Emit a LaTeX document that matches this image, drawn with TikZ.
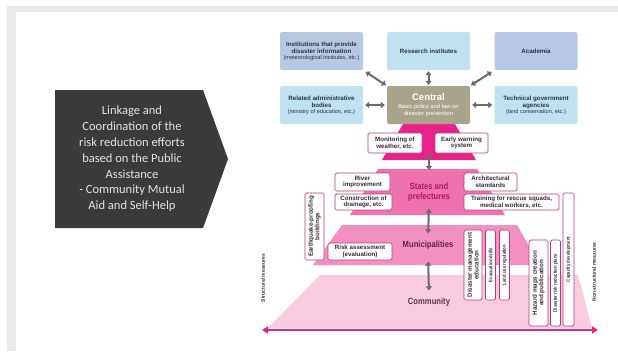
\documentclass[tikz,border=0pt]{standalone}
\usepackage{fontspec}
\setmainfont{Liberation Sans}
\newfontfamily\slidefont{Carlito}
\newfontfamily\narrowfont[FakeStretch=0.85]{Liberation Sans}
\usetikzlibrary{arrows.meta}

\definecolor{framegrey}{HTML}{E9E9E9}
\definecolor{slidedark}{HTML}{3B3B3B}
\definecolor{slidetextc}{HTML}{E2E2E2}
\definecolor{toplav}{HTML}{B8C8E2}
\definecolor{topcyan}{HTML}{C0E2F0}
\definecolor{toptext}{HTML}{2B3346}
\definecolor{centralc}{HTML}{A9A38C}
\definecolor{magentalayer}{HTML}{E8228B}
\definecolor{stateslayer}{HTML}{EE72AE}
\definecolor{munilayer}{HTML}{F190C1}
\definecolor{commlayer}{HTML}{F8CBDF}
\definecolor{boxline}{HTML}{C2337E}
\definecolor{boxtext}{HTML}{3A2C34}
\definecolor{arrowgrey}{HTML}{6A6A6A}
\definecolor{statestext}{HTML}{B3145F}
\definecolor{munitext}{HTML}{5E2448}
\definecolor{commtext}{HTML}{5A3A4E}

\tikzset{
    topbox/.style={rounded corners=2pt, minimum width=83pt, minimum height=38pt,
        align=center, inner sep=1pt, text=toptext, font=\fontsize{6.2}{7}\selectfont\bfseries},
    measurebox/.style={draw=boxline, line width=0.7pt, fill=white, rounded corners=1.5pt,
        align=center, inner sep=0.5pt, text=boxtext, font=\fontsize{6.2}{6.6}\selectfont\bfseries},
    upright/.style={measurebox, rotate=90},
    thinupright/.style={upright, minimum height=10pt, font=\narrowfont\fontsize{5}{5.6}\selectfont\bfseries},
    greyarrow/.style={{Triangle[length=4pt,width=6pt]}-{Triangle[length=4pt,width=6pt]},
        line width=2pt, draw=arrowgrey},
    layerlabel/.style={align=center, font=\narrowfont\bfseries\fontsize{9}{10}\selectfont},
    axislabel/.style={rotate=90, text=boxtext, font=\fontsize{5}{5.5}\selectfont\bfseries},
}

\begin{document}
\begin{tikzpicture}[x=1pt, y=-1pt]
    \useasboundingbox (0,0) rectangle (618,354);
    \fill[white] (0,0) rectangle (618,354);
    % slide frame
    \fill[framegrey] (7,6) rectangle (618,12);
    \fill[framegrey] (7,6) rectangle (16,351);

    % left block
    \fill[slidedark] (55,90) -- (203,90) -- (228,159) -- (203,228) -- (55,228) -- cycle;
    \node[align=center, text=slidetextc, font=\slidefont\fontsize{12.5}{15.8}\selectfont] (linkage) at (132,159)
        {Linkage and\\Coordination of the\\risk reduction efforts\\based on the Public\\Assistance\\- Community Mutual\\Aid and Self-Help};

    % pyramid layers
    \fill[commlayer] (320,275) -- (578,275) -- (592,328) -- (268,328) -- cycle;
    \fill[munilayer] (342,225) -- (517,225) -- (540,265) -- (313,265) -- cycle;
    \fill[stateslayer] (378,169) -- (477,169) -- (505,215) -- (350,215) -- cycle;
    \fill[magentalayer] (403,124) -- (455,124) -- (476,160) -- (382,160) -- cycle;

    % top level
    \node[topbox, fill=toplav] (institutions) at (321.5,51)
        {Institutions that provide\\disaster information\\[-1pt]\mdseries\fontsize{5.6}{6.4}\selectfont (meteorological institutes, etc.)};
    \node[topbox, fill=topcyan] (research) at (428.5,51) {Research institutes};
    \node[topbox, fill=toplav] (academia) at (536,51) {Academia};
    \node[topbox, fill=topcyan] (related) at (321.5,105)
        {Related administrative\\bodies\\[-1pt]\mdseries\fontsize{5.6}{6.4}\selectfont (ministry of education, etc.)};
    \node[topbox, fill=centralc, text=white] (central) at (428.5,105)
        {\fontsize{9.5}{10.5}\selectfont Central\\[1pt]\mdseries\fontsize{5.8}{6.4}\selectfont Basic policy and law on\\\mdseries\fontsize{5.8}{6.4}\selectfont disaster prevention};
    \node[topbox, fill=topcyan] (technical) at (536,105)
        {Technical government\\agencies\\[-1pt]\mdseries\fontsize{5.6}{6.4}\selectfont (land conservation, etc.)};

    \draw[greyarrow, shorten <=3pt, shorten >=1pt] (institutions.south east) -- (central.north west);
    \draw[greyarrow, shorten <=1pt, shorten >=1pt] (research.south) -- (central.north);
    \draw[greyarrow, shorten <=3pt, shorten >=1pt] (academia.south west) -- (central.north east);
    \draw[greyarrow, shorten <=2pt, shorten >=2pt] (related.east) -- (central.west);
    \draw[greyarrow, shorten <=2pt, shorten >=2pt] (technical.west) -- (central.east);

    % national measures
    \node[measurebox, minimum width=54pt, minimum height=20pt] (monitoring) at (395,143) {Monitoring of\\weather, etc.};
    \node[measurebox, minimum width=53pt, minimum height=20pt] (warning) at (461.5,143) {Early warning\\system};

    % states and prefectures
    \node[layerlabel, text=statestext] (states) at (429,192) {States and\\prefectures};
    \coordinate (apex) at (429,154);
    \draw[greyarrow] (apex) -- (429,170);
    \node[measurebox, minimum width=55pt, minimum height=18pt] (river) at (362.5,182) {River\\improvement};
    \node[measurebox, minimum width=57pt, minimum height=16pt] (drainage) at (363.5,202) {Construction of\\drainage, etc.};
    \node[measurebox, minimum width=53pt, minimum height=18pt] (architecture) at (490.5,182) {Architectural\\standards};
    \node[measurebox, minimum width=95pt, minimum height=16pt] (training) at (511.5,202) {Training for rescue squads,\\medical workers, etc.};
    \node[upright, minimum width=67pt, minimum height=19pt] (earthquake) at (314.5,226.5) {Earthquake-proofing\\buildings};

    % municipalities
    \node[layerlabel, text=munitext] (municipalities) at (428,245) {Municipalities};
    \draw[greyarrow, shorten <=4pt, shorten >=4pt] (states.south) -- (municipalities.north);
    \node[measurebox, minimum width=64pt, minimum height=17pt] (risk) at (360,251.5) {Risk assessment\\(evaluation)};
    \node[upright, minimum width=70pt, minimum height=18pt] (education) at (473,265) {Disaster management\\education};
    \node[thinupright, minimum width=70pt] (drills) at (490.5,265) {Evacuation drills};
    \node[thinupright, minimum width=70pt] (landuse) at (504.5,265) {Land use regulation};
    \node[upright, minimum width=86pt, minimum height=19pt] (hazard) at (538.5,283) {Hazard maps creation\\and publication};
    \node[thinupright, minimum width=86pt] (plans) at (555.5,283) {Disaster risk reduction plans};
    \node[thinupright, minimum width=133pt, minimum height=11pt] (capacity) at (568.5,259.5) {Capacity development};

    % community
    \node[layerlabel, text=commtext] (community) at (429,302) {Community};
    \draw[greyarrow, shorten <=9pt, shorten >=4pt] (municipalities.south) -- (community.north);

    % measures axis
    \coordinate (structuralend) at (262,330);
    \coordinate (nonstructuralend) at (598,330);
    \draw[{Triangle[length=6pt,width=7pt]}-{Triangle[length=6pt,width=7pt]}, line width=1.6pt, draw=magentalayer]
        (structuralend) -- (nonstructuralend);
    \node[axislabel] (structural) at (263,278) {Structural measures};
    \node[axislabel] (nonstructural) at (594,272) {Non-structural measures};
\end{tikzpicture}
\end{document}
